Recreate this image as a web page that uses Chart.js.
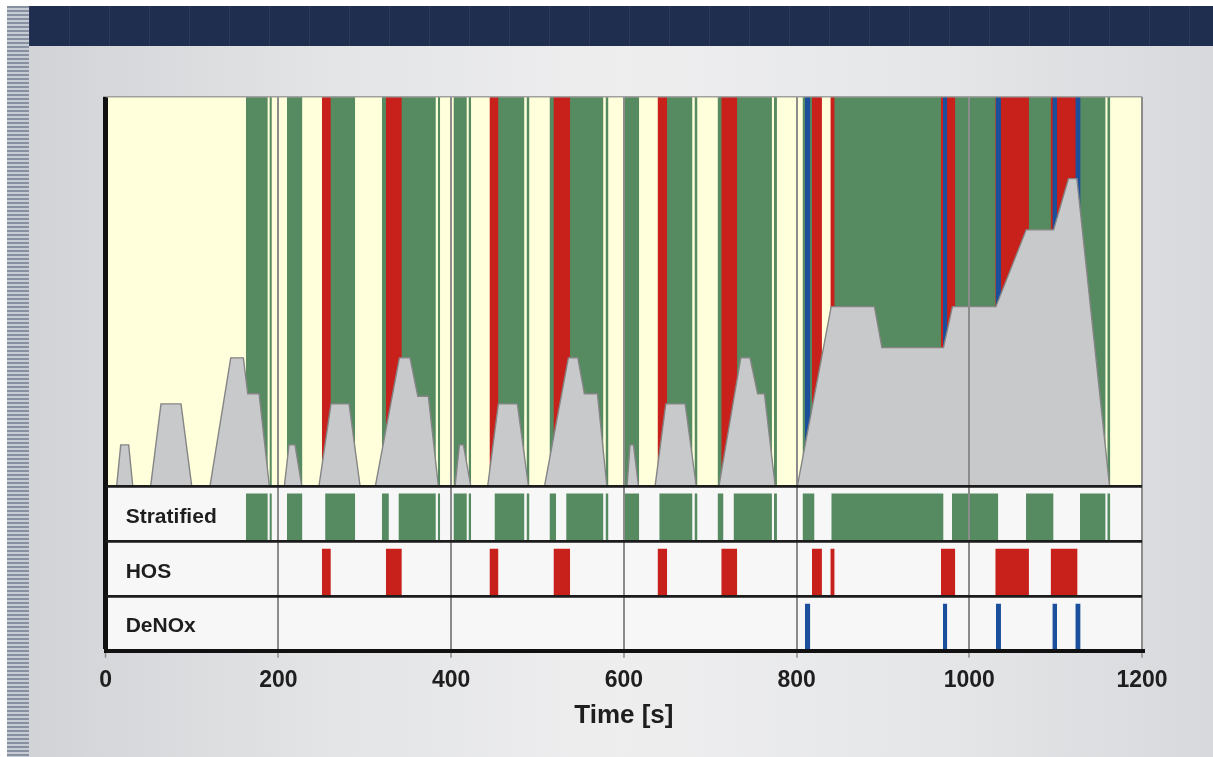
<!DOCTYPE html>
<html>
<head>
<meta charset="utf-8">
<title>Operating modes over the NEDC</title>
<script src="https://cdn.jsdelivr.net/npm/chart.js@4.4.1/dist/chart.umd.min.js"></script>
<style>
  html, body { margin: 0; padding: 0; }
  body { width: 1213px; height: 757px; position: relative; overflow: hidden; background: #fff; }
  #page { position: absolute; left: 29px; top: 46px; right: 0; bottom: 0;
          background: linear-gradient(90deg, #d2d3d6 0%, #e3e4e6 25%, #eeeeef 50%, #e6e7e9 75%, #d8d9dc 100%); }
  #head { position: absolute; left: 29px; top: 6px; right: 0; height: 40px; background-color: #1f2d4f;
          background-image: repeating-linear-gradient(90deg, rgba(255,255,255,0.06) 0 1px, transparent 1px 40px); }
  #stripes { position: absolute; left: 7px; top: 6px; width: 22px; bottom: 0;
             background: repeating-linear-gradient(180deg, #8790a0 0 2px, #c7ccd4 2px 4px); }
  #chart { position: absolute; left: 0; top: 0; }
</style>
</head>
<body>
<div id="page"></div>
<div id="head"></div>
<div id="stripes"></div>
<canvas id="chart" width="1213" height="757"></canvas>
<script>
const speedTime = [
    0, 12.7, 17.4, 26.6, 31.3, 52.1, 64.0, 87.2, 99.6, 120.8, 144.8, 159.4, 164.5, 177.6, 189.5,
    206.9, 212.3, 219.2, 227.0, 247.0, 260.9, 281.8, 294.5, 312.3, 340.1, 352.4, 361.4, 373.6, 385.2,
    404.6, 409.6, 414.2, 422.7, 442.4, 454.7, 476.7, 489.5, 508.2, 535.8, 546.7, 554.3, 569.4, 580.3,
    603.7, 607.2, 611.1, 616.9, 636.2, 648.6, 671.0, 683.8, 710.2, 735.4, 746.1, 754.9, 762.8, 775.2,
    801.0, 840.1, 890.2, 898.8, 970.1, 980.5, 1030.8, 1065.9, 1097.6, 1114.9, 1124.6, 1162.4, 1200
];
const speedKmh = [
    0, 0, 16, 16, 0, 0, 32, 32, 0, 0, 50, 50, 36, 36, 0,
    0, 16, 16, 0, 0, 32, 32, 0, 0, 50, 50, 35, 35, 0,
    0, 16, 16, 0, 0, 32, 32, 0, 0, 50, 50, 36, 36, 0,
    0, 16, 16, 0, 0, 32, 32, 0, 0, 50, 50, 36, 36, 0,
    0, 70, 70, 54, 54, 70, 70, 100, 100, 120, 120, 0, 0
];

// operating mode windows [start, end] in s
const stratified = [
    [162.3, 187.7], [189.6, 192.4], [209.8, 227.8], [254.1, 288.9], [319.8, 327.9],
    [339.0, 382.3], [384.6, 387.3], [402.7, 418.2], [420.1, 423.2], [450.2, 484.9],
    [487.3, 490.7], [513.9, 521.6], [533.2, 576.4], [578.8, 582.2], [598.9, 617.8],
    [641.0, 679.5], [681.8, 685.3], [708.5, 715.4], [727.0, 771.5], [773.8, 777.3],
    [806.9, 820.8], [840.2, 970.2], [980.0, 1033.6], [1065.7, 1097.6], [1128.2, 1157.9],
    [1159.8, 1163.3]
];
const hos = [
    [250.3, 260.7], [324.4, 342.9], [444.4, 454.8], [518.5, 537.8], [639.0, 650.2],
    [712.8, 731.3], [817.8, 829.4], [839.1, 844.1], [967.2, 983.8], [1030.1, 1069.1],
    [1094.2, 1125.4]
];
const denox = [
    [809.7, 815.9], [969.5, 974.5], [1030.9, 1036.7], [1096.2, 1101.7], [1122.8, 1128.9]
];

const rowLabels = ['Stratified', 'HOS', 'DeNOx'];
const timeTicks = [0, 200, 400, 600, 800, 1000, 1200];

const SPEED_MAX = 152;
const BAR_TOP = 0.86;     // strip bar height (row units)
const LABEL_AT = 0.44;    // row label position (row units)

const GREEN = '#568a60';
const RED = '#c8201a';
const BLUE = '#1b4f9c';
const FONT = "'Liberation Sans', Arial, sans-serif";

function bandPoints(windows, top) {
    const pts = [];
    windows.forEach(([a, b]) => {
        pts.push({ x: a, y: top }, { x: b, y: top }, { x: b, y: null });
    });
    return pts;
}

function band(windows, top, color, axis) {
    return {
        type: 'line',
        data: bandPoints(windows, top),
        yAxisID: axis,
        fill: 'start',
        backgroundColor: color,
        borderWidth: 0,
        pointRadius: 0,
        spanGaps: false,
        tension: 0,
    };
}

// plot backgrounds: light strips, pale yellow speed panel
const panelBg = {
    id: 'panelBg',
    beforeDraw(chart) {
        const { ctx, chartArea: a, scales } = chart;
        ctx.save();
        ctx.fillStyle = '#f7f7f7';
        ctx.fillRect(a.left, a.top, a.right - a.left, a.bottom - a.top);
        ctx.fillStyle = '#ffffdc';
        ctx.fillRect(a.left, scales.ySpeed.top, a.right - a.left, scales.ySpeed.bottom - scales.ySpeed.top);
        ctx.restore();
    }
};

function rowScale(label, weight) {
    return {
        type: 'linear',
        position: 'left',
        stack: 'rows',
        stackWeight: weight,
        min: 0,
        max: 1,
        afterBuildTicks: s => { s.ticks = [{ value: 0 }, { value: LABEL_AT }, { value: 1 }]; },
        ticks: {
            autoSkip: false,
            mirror: true,
            padding: 20,
            color: '#1e1e1e',
            font: { family: FONT, size: 21, weight: 'bold' },
            callback: v => (v === LABEL_AT ? label : ''),
        },
        grid: {
            drawTicks: false,
            z: 1,
            color: c => (c.tick && c.tick.value === LABEL_AT ? 'rgba(0,0,0,0)' : '#1c1c1c'),
            lineWidth: 2.5,
        },
        border: { display: false },
    };
}

const chart = new Chart(document.getElementById('chart'), {
    type: 'line',
    data: {
        datasets: [
            {
                data: speedTime.map((t, i) => ({ x: t, y: speedKmh[i] })),
                yAxisID: 'ySpeed',
                fill: 'start',
                backgroundColor: '#c8c9cb',
                borderColor: '#858585',
                borderWidth: 1.4,
                pointRadius: 0,
                tension: 0,
            },
            band(denox, SPEED_MAX, BLUE, 'ySpeed'),
            band(hos, SPEED_MAX, RED, 'ySpeed'),
            band(stratified, SPEED_MAX, GREEN, 'ySpeed'),
            band(stratified, BAR_TOP, GREEN, 'yStrat'),
            band(hos, BAR_TOP, RED, 'yHos'),
            band(denox, BAR_TOP, BLUE, 'yDenox'),
        ]
    },
    options: {
        responsive: false,
        animation: false,
        events: [],
        layout: { padding: { left: 65.7, right: 71, top: 96.7, bottom: 25.5 } },
        plugins: { legend: { display: false }, tooltip: { enabled: false } },
        scales: {
            x: {
                type: 'linear',
                min: 0,
                max: 1200,
                afterBuildTicks: s => { s.ticks = timeTicks.map(v => ({ value: v })); },
                ticks: {
                    autoSkip: false,
                    maxRotation: 0,
                    padding: 9,
                    color: '#1e1e1e',
                    font: { family: FONT, size: 23, weight: 'bold' },
                    callback: v => String(v),
                },
                grid: {
                    z: 1,
                    color: c => (c.tick && c.tick.value === 0 ? '#111' : '#8c8c8c'),
                    lineWidth: c => (c.tick && c.tick.value === 0 ? 5 : 2),
                    tickLength: 7,
                    tickColor: '#8c8c8c',
                    tickWidth: 1.5,
                },
                border: { color: '#111', width: 4, z: 2 },
                title: {
                    display: true,
                    text: 'Time [s]',
                    color: '#1e1e1e',
                    font: { family: FONT, size: 26, weight: 'bold' },
                    padding: { top: -3, bottom: 0 },
                },
            },
            // stacked left axes are placed bottom-up in reverse of definition order
            yDenox: rowScale(rowLabels[2], 54.5),
            yHos: rowScale(rowLabels[1], 54.7),
            yStrat: rowScale(rowLabels[0], 55),
            ySpeed: {
                type: 'linear',
                position: 'left',
                stack: 'rows',
                stackWeight: 387.6,
                min: 0,
                max: SPEED_MAX,
                afterBuildTicks: s => { s.ticks = [{ value: 0 }, { value: SPEED_MAX }]; },
                ticks: { display: false },
                grid: {
                    drawTicks: false,
                    z: 1,
                    color: c => (c.tick && c.tick.value === 0 ? '#1c1c1c' : '#a0a0a0'),
                    lineWidth: c => (c.tick && c.tick.value === 0 ? 2.5 : 1.5),
                },
                border: { display: false },
            },
        }
    },
    plugins: [panelBg]
});
</script>
</body>
</html>
